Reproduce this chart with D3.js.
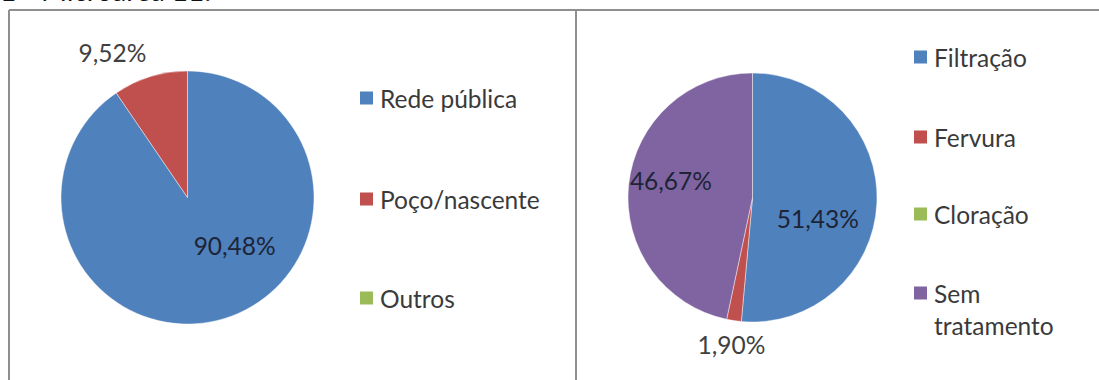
<!DOCTYPE html>
<html>
<head>
<meta charset="utf-8">
<script src="https://cdn.jsdelivr.net/npm/d3@7"></script>
<style>
  html, body { margin: 0; padding: 0; background: #fff; }
  svg { display: block; }
  text { font-family: Lato, "Open Sans", sans-serif; }
</style>
</head>
<body>
<svg id="chart" width="1099" height="380"></svg>
<script>
// Abastecimento de água (fonte)
const fonteCategorias = ["Rede pública", "Poço/nascente", "Outros"];
const fonteValores = [90.48, 9.52, 0];

// Tratamento da água no domicílio
const tratamentoCategorias = ["Filtração", "Fervura", "Cloração", "Sem tratamento"];
const tratamentoValores = [51.43, 1.90, 0, 46.67];

const fonteCores = ["#4f81bd", "#c0504d", "#9bbb59"];
const tratamentoCores = ["#4f81bd", "#c0504d", "#9bbb59", "#8064a2"];

const svg = d3.select("#chart");
const W = 1099, H = 380;
const FS = 24.5;

svg.append("rect").attr("width", W).attr("height", H).attr("fill", "#fff");

// Heading of the figure (only its lower edge falls inside the frame)
svg.append("text")
  .attr("x", 0).attr("y", 0.5)
  .attr("font-size", 28)
  .attr("fill", "#111")
  .text("1 - Microárea 11:");

// Panel frames
const frame = svg.append("g").attr("fill", "none").attr("stroke", "#8f8f8f").attr("stroke-width", 2);
frame.append("line").attr("x1", 9).attr("x2", W).attr("y1", 10).attr("y2", 10);
frame.append("line").attr("x1", 9).attr("x2", 9).attr("y1", 10).attr("y2", H);
frame.append("line").attr("x1", 576).attr("x2", 576).attr("y1", 10).attr("y2", H);

const fmt = v => d3.format(".2f")(v).replace(".", ",") + "%";

function drawPie(opts) {
  const { cx, cy, r, categorias, valores, cores, labels, legend } = opts;
  const g = svg.append("g").attr("transform", `translate(${cx},${cy})`);
  const pie = d3.pie().sort(null).value(d => d.v);
  const data = categorias.map((c, i) => ({ c, v: valores[i], i }));
  const arcs = pie(data);
  const arc = d3.arc().innerRadius(0).outerRadius(r);

  g.selectAll("path.slice")
    .data(arcs.filter(a => a.data.v > 0))
    .join("path")
    .attr("class", "slice")
    .attr("d", arc)
    .attr("fill", d => cores[d.data.i])
    .attr("stroke", "rgba(255,255,255,0.55)")
    .attr("stroke-width", 0.8);

  // Data labels placed by angle (deg, clockwise from 12 o'clock) and radius factor
  arcs.forEach(a => {
    const L = labels[a.data.i];
    if (!L || a.data.v <= 0) return;
    const ang = L.angle * Math.PI / 180;
    const rr = L.k * r;
    g.append("text")
      .attr("x", rr * Math.sin(ang))
      .attr("y", -rr * Math.cos(ang))
      .attr("text-anchor", "middle")
      .attr("dominant-baseline", "central")
      .attr("font-size", FS)
      .attr("fill", L.inside ? "#1d2436" : "#404040")
      .text(fmt(a.data.v));
  });

  // Legend
  const lg = svg.append("g");
  const lineH = legend.lineH || 30;
  categorias.forEach((c, i) => {
    const y = legend.ys[i];
    lg.append("rect")
      .attr("x", legend.x).attr("y", y - 6.5)
      .attr("width", 13).attr("height", 13)
      .attr("fill", cores[i]);
    const lines = legend.wrap && legend.wrap[i] ? legend.wrap[i] : [c];
    lines.forEach((ln, j) => {
      lg.append("text")
        .attr("x", legend.x + 20)
        .attr("y", y + j * lineH)
        .attr("dominant-baseline", "central")
        .attr("font-size", FS)
        .attr("fill", "#3a3a3a")
        .text(ln);
    });
  });
}

drawPie({
  cx: 187.5, cy: 197.5, r: 126.5,
  categorias: fonteCategorias, valores: fonteValores, cores: fonteCores,
  labels: [
    { angle: 135.3, k: 0.53, inside: true },
    { angle: 332.6, k: 1.29, inside: false },
    null
  ],
  legend: { x: 360, ys: [98, 199, 298] }
});

drawPie({
  cx: 752.5, cy: 197.5, r: 124.5,
  categorias: tratamentoCategorias, valores: tratamentoValores, cores: tratamentoCores,
  labels: [
    { angle: 107.5, k: 0.55, inside: true },
    { angle: 188.2, k: 1.19, inside: false },
    null,
    { angle: 282, k: 0.67, inside: true }
  ],
  legend: { x: 914, ys: [57, 137, 214, 293], lineH: 32,
            wrap: [null, null, null, ["Sem", "tratamento"]] }
});
</script>
</body>
</html>
